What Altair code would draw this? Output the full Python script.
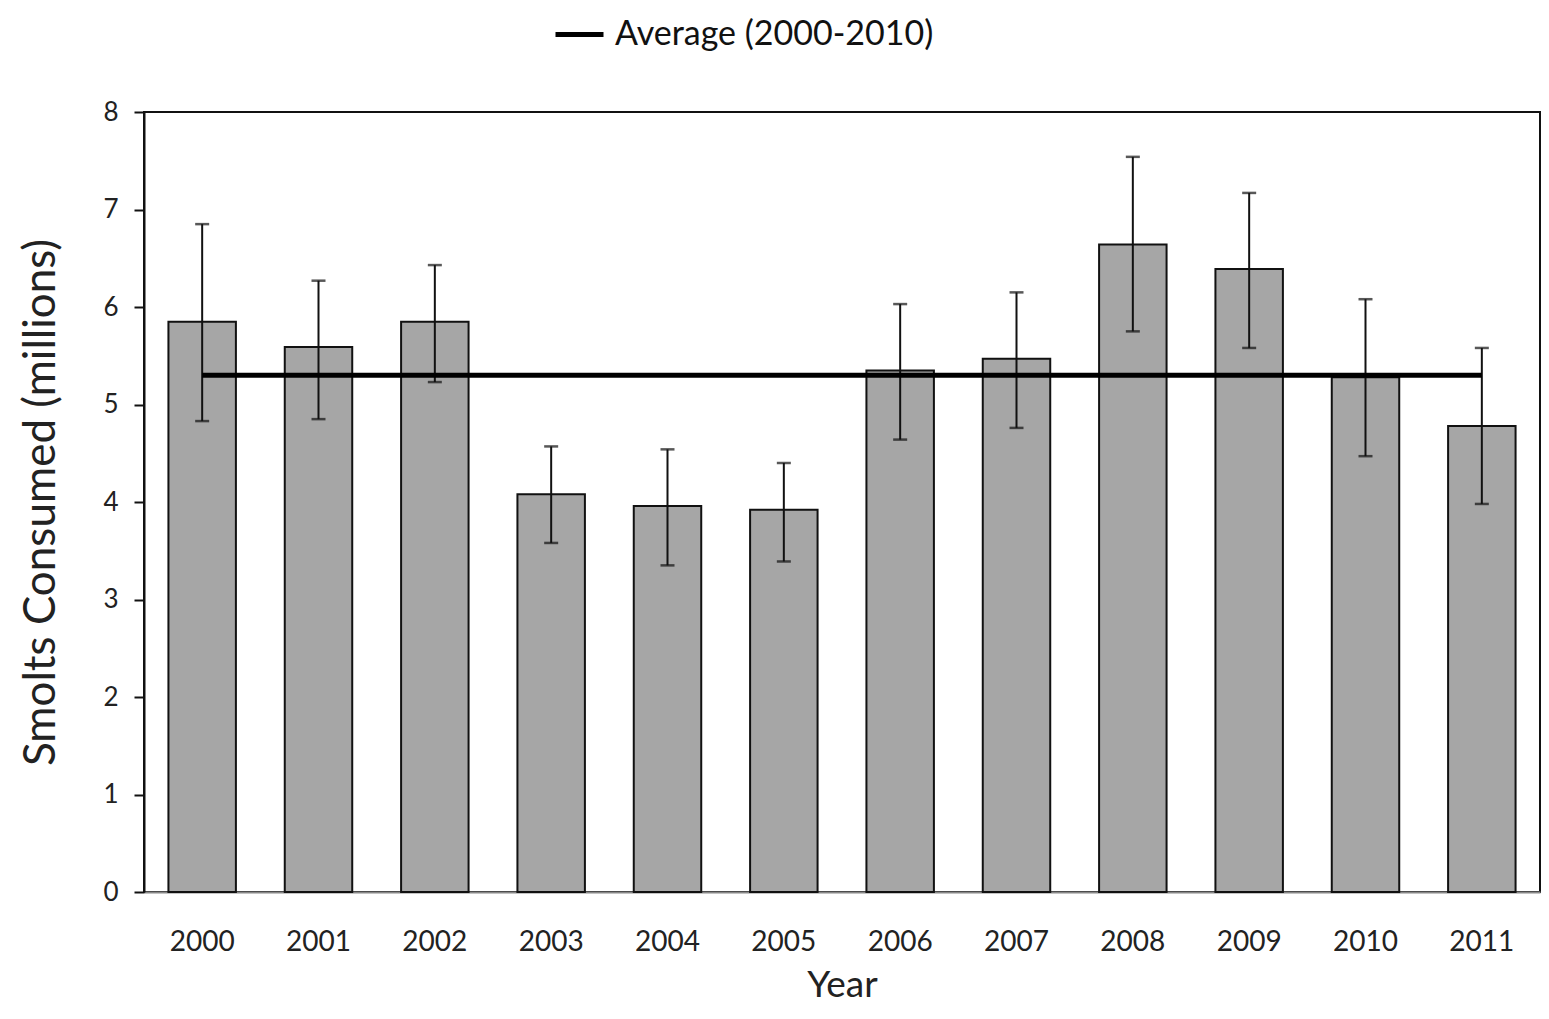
import altair as alt
import pandas as pd

years = ["2000", "2001", "2002", "2003", "2004", "2005",
         "2006", "2007", "2008", "2009", "2010", "2011"]
consumed = [5.85, 5.59, 5.85, 4.08, 3.96, 3.92, 5.35, 5.47, 6.64, 6.39, 5.28, 4.78]
err_high = [6.85, 6.27, 6.43, 4.57, 4.54, 4.40, 6.03, 6.15, 7.54, 7.17, 6.08, 5.58]
err_low = [4.83, 4.85, 5.23, 3.58, 3.35, 3.39, 4.64, 4.76, 5.75, 5.58, 4.47, 3.98]
average_value = 5.30
average_label = "Average (2000-2010)"

df = pd.DataFrame({
    "Year": years,
    "Consumed": consumed,
    "High": err_high,
    "Low": err_low,
    "Average": [average_value] * len(years),
    "Series": [average_label] * len(years),
})

FONT = "Lato"

x_enc = alt.X(
    "Year:N",
    sort=years,
    title="Year",
    scale=alt.Scale(paddingInner=0.42, paddingOuter=0.21),
    axis=alt.Axis(
        labelAngle=0, labelFontSize=28, labelFont=FONT, labelColor="#222222",
        labelPadding=36, ticks=False, domainColor="#888888", domainWidth=2,
        titleFontSize=37, titleFont=FONT, titleFontWeight="normal",
        titleColor="#222222", titlePadding=11,
    ),
)

y_scale = alt.Scale(domain=[0, 8], nice=False)

bars = alt.Chart(df).mark_bar(
    color="#a6a6a6", stroke="#111111", strokeWidth=2
).encode(
    x=x_enc,
    y=alt.Y(
        "Consumed:Q",
        scale=y_scale,
        title="Smolts Consumed  (millions)",
        axis=alt.Axis(
            values=[0, 1, 2, 3, 4, 5, 6, 7, 8], format="d", grid=False,
            tickSize=10, tickColor="#111111", tickWidth=2,
            domainColor="#111111", domainWidth=2,
            labelFontSize=26, labelFont=FONT, labelColor="#222222",
            labelPadding=16,
            titleFontSize=44, titleFont=FONT, titleFontWeight="normal",
            titleColor="#222222", titlePadding=39,
        ),
    ),
)

err_rules = alt.Chart(df).mark_rule(color="#111111", strokeWidth=2).encode(
    x=alt.X("Year:N", sort=years),
    y=alt.Y("High:Q", scale=y_scale),
    y2="Low:Q",
)

cap_hi = alt.Chart(df).mark_tick(color="#111111", thickness=2.5, size=14).encode(
    x=alt.X("Year:N", sort=years),
    y=alt.Y("High:Q", scale=y_scale),
)
cap_lo = alt.Chart(df).mark_tick(color="#111111", thickness=2.5, size=14).encode(
    x=alt.X("Year:N", sort=years),
    y=alt.Y("Low:Q", scale=y_scale),
)

avg_line = alt.Chart(df).mark_line(strokeWidth=5).encode(
    x=alt.X("Year:N", sort=years),
    y=alt.Y("Average:Q", scale=y_scale),
    color=alt.Color(
        "Series:N",
        scale=alt.Scale(range=["#000000"]),
        legend=alt.Legend(
            title=None, orient="none", legendX=409, legendY=-104,
            symbolType="stroke", symbolSize=2304, symbolStrokeWidth=5,
            labelFontSize=34, labelFont=FONT, labelColor="#111111",
            labelOffset=9, labelLimit=600,
        ),
    ),
)

chart = alt.layer(bars, err_rules, cap_hi, cap_lo, avg_line).properties(
    width=1396,
    height=780,
    autosize=alt.AutoSizeParams(type="none"),
    padding={"left": 136, "top": 104, "right": 1, "bottom": 111},
).configure(
    background="white"
).configure_view(
    stroke="#111111", strokeWidth=2
)

chart.save("out.html", embed_options={"renderer": "svg", "actions": False})
